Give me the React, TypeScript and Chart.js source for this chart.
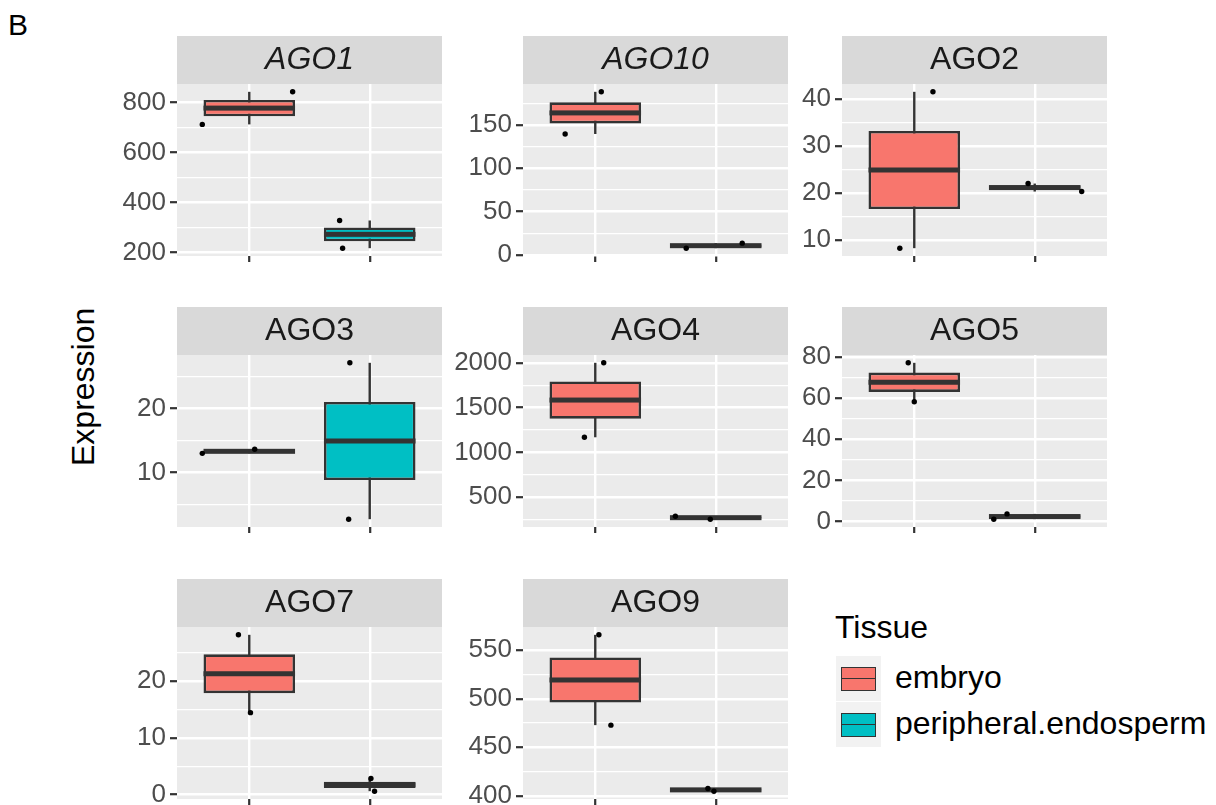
import React, { useEffect, useRef } from 'react';
import { Chart, registerables } from 'chart.js';

Chart.register(...registerables);

const FONT = '"Liberation Sans", Arial, Helvetica, sans-serif';
Chart.defaults.font.family = FONT;

// ---------------- data ----------------
const genes = ['AGO1', 'AGO10', 'AGO2', 'AGO3', 'AGO4', 'AGO5', 'AGO7', 'AGO9'];
const italicGenes = ['AGO1', 'AGO10'];
const tissues = ['embryo', 'peripheral.endosperm'];
const tissueColors = ['#F8766D', '#00BFC4'];

const embryoValues = [
  [712, 842],
  [139.6, 188.3],
  [8.3, 41.55],
  [13.0, 13.63],
  [1169, 2000],
  [58.2, 77.07],
  [14.43, 28.16],
  [472.8, 565.8],
];
const endospermValues = [
  [218, 328.5],
  [7.7, 13.5],
  [20.34, 22.04],
  [2.76, 27.08],
  [255.2, 288.6],
  [1.16, 3.73],
  [0.58, 2.82],
  [404.8, 407.5],
];
// horizontal jitter of each point (offset from its category)
const embryoJitter = [
  [-0.39, 0.36],
  [-0.25, 0.05],
  [-0.12, 0.155],
  [-0.39, 0.045],
  [-0.09, 0.07],
  [0.0, -0.05],
  [0.01, -0.09],
  [0.13, 0.03],
];
const endospermJitter = [
  [-0.225, -0.25],
  [-0.245, 0.22],
  [0.39, -0.055],
  [-0.175, -0.165],
  [-0.045, -0.335],
  [-0.34, -0.23],
  [0.04, 0.01],
  [-0.015, -0.065],
];
const yMajorTicks = [
  [200, 400, 600, 800],
  [0, 50, 100, 150],
  [10, 20, 30, 40],
  [10, 20],
  [500, 1000, 1500, 2000],
  [0, 20, 40, 60, 80],
  [0, 10, 20],
  [400, 450, 500, 550],
];

// ---------------- layout ----------------
const COL_LEFT = [177, 523, 842];
const ROW_TOP = [36, 307, 579];
const PANEL_W = 265;
const PLOT_H = 172;
const STRIP_H = 48;
const AXIS_W = 80;
const XAXIS_H = 8;
const RIGHT_PAD = 3;

function quantile(sorted: number[], p: number) {
  const h = (sorted.length - 1) * p;
  const lo = Math.floor(h);
  const hi = Math.min(lo + 1, sorted.length - 1);
  return sorted[lo] + (h - lo) * (sorted[hi] - sorted[lo]);
}

function boxStats(values: number[]) {
  const s = [...values].sort((a, b) => a - b);
  const q1 = quantile(s, 0.25);
  const med = quantile(s, 0.5);
  const q3 = quantile(s, 0.75);
  const iqr = q3 - q1;
  const lo = Math.min(...s.filter((v) => v >= q1 - 1.5 * iqr));
  const hi = Math.max(...s.filter((v) => v <= q3 + 1.5 * iqr));
  return { q1, med, q3, lo, hi };
}

function Panel({ index }: { index: number }) {
  const ref = useRef<HTMLCanvasElement>(null);
  const col = index % 3;
  const row = Math.floor(index / 3);
  const left = COL_LEFT[col] - AXIS_W;
  const top = ROW_TOP[row];
  const width = AXIS_W + PANEL_W + RIGHT_PAD;
  const height = STRIP_H + PLOT_H + XAXIS_H;

  useEffect(() => {
    const gene = genes[index];
    const italic = italicGenes.includes(gene);
    const groups = [embryoValues[index], endospermValues[index]];
    const jitters = [embryoJitter[index], endospermJitter[index]];
    const stats = groups.map(boxStats);
    const all = groups.flat();
    const dmin = Math.min(...all);
    const dmax = Math.max(...all);
    const pad = (dmax - dmin) * 0.05;
    const ymin = dmin - pad;
    const ymax = dmax + pad;
    const majors = yMajorTicks[index];
    const step = majors[1] - majors[0];
    const tickVals: number[] = [];
    for (let k = -1; k <= 2 * (majors.length - 1) + 1; k++) {
      const v = majors[0] + (k * step) / 2;
      if (v >= ymin && v <= ymax) tickVals.push(v);
    }
    const isMajor = (v: number) => majors.some((m) => Math.abs(m - v) < step * 1e-6);

    const points = groups.flatMap((g, t) =>
      g.map((v, j) => ({ x: t + 1 + jitters[t][j], y: v }))
    );
    const boxes = stats.map((s, t) => ({ x: t + 1, y: [s.q1, s.q3] }));
    const whiskers = stats.map((s, t) => ({ x: t + 1, y: [s.lo, s.hi] }));

    const panelPlugin = {
      id: 'panelDeco',
      beforeDraw(chart: any) {
        const { ctx, chartArea: a } = chart;
        ctx.save();
        ctx.fillStyle = '#EBEBEB';
        ctx.fillRect(a.left, a.top, a.right - a.left, a.bottom - a.top);
        ctx.fillStyle = '#D9D9D9';
        ctx.fillRect(a.left, a.top - STRIP_H, a.right - a.left, STRIP_H);
        ctx.fillStyle = '#1A1A1A';
        ctx.font = `${italic ? 'italic ' : ''}32px ${FONT}`;
        ctx.textAlign = 'center';
        ctx.textBaseline = 'alphabetic';
        ctx.fillText(gene, (a.left + a.right) / 2, a.top - STRIP_H + 33);
        ctx.restore();
      },
      afterDatasetDraw(chart: any, args: any) {
        if (args.index !== 1) return;
        const { ctx } = chart;
        const yScale = chart.scales.y;
        ctx.save();
        ctx.fillStyle = '#333333';
        args.meta.data.forEach((bar: any, i: number) => {
          const { x, width: w } = bar.getProps(['x', 'width'], true);
          const y = yScale.getPixelForValue(stats[i].med);
          ctx.fillRect(x - w / 2, y - 2.5, w, 5);
        });
        ctx.restore();
      },
    };

    const chart = new Chart(ref.current as HTMLCanvasElement, {
      type: 'bar',
      data: {
        datasets: [
          {
            type: 'scatter',
            label: 'points',
            data: points,
            pointRadius: 2.7,
            pointHoverRadius: 2.7,
            backgroundColor: '#000000',
            borderWidth: 0,
          } as any,
          {
            type: 'bar',
            label: 'box',
            data: boxes,
            backgroundColor: tissueColors,
            borderColor: '#333333',
            borderWidth: 2.6,
            borderSkipped: false,
            grouped: false,
            categoryPercentage: 1,
            barPercentage: 0.76,
          } as any,
          {
            type: 'bar',
            label: 'whisker',
            data: whiskers,
            backgroundColor: '#333333',
            borderWidth: 0,
            grouped: false,
            maxBarThickness: 2.4,
          } as any,
        ],
      },
      options: {
        animation: false,
        responsive: false,
        maintainAspectRatio: false,
        events: [],
        layout: { padding: { left: 0, top: STRIP_H, right: RIGHT_PAD, bottom: 0 } },
        plugins: { legend: { display: false }, tooltip: { enabled: false }, title: { display: false } },
        scales: {
          x: {
            type: 'linear',
            min: 0.4,
            max: 2.6,
            offset: false,
            afterBuildTicks: (s: any) => {
              s.ticks = [{ value: 1 }, { value: 2 }];
            },
            afterFit: (s: any) => {
              s.height = XAXIS_H;
              s.paddingLeft = 0;
              s.paddingRight = 0;
              s.paddingTop = 0;
              s.paddingBottom = 0;
            },
            ticks: { display: false },
            grid: {
              color: '#FFFFFF',
              lineWidth: 2.4,
              tickColor: '#333333',
              tickWidth: 2.2,
              tickLength: 6,
              offset: false,
              drawTicks: true,
            },
            border: { display: false },
          },
          y: {
            type: 'linear',
            min: ymin,
            max: ymax,
            afterBuildTicks: (s: any) => {
              s.ticks = tickVals.map((v) => ({ value: v }));
            },
            afterFit: (s: any) => {
              s.width = AXIS_W;
              s.paddingTop = 0;
              s.paddingBottom = 0;
              s.paddingLeft = 0;
              s.paddingRight = 0;
            },
            ticks: {
              autoSkip: false,
              padding: 4,
              color: '#4D4D4D',
              font: { family: FONT, size: 26 },
              callback: (v: any) => (isMajor(Number(v)) ? String(v) : ''),
            },
            grid: {
              color: '#FFFFFF',
              lineWidth: (c: any) => (c.tick && !isMajor(c.tick.value) ? 1.2 : 2.4),
              tickColor: (c: any) => (c.tick && isMajor(c.tick.value) ? '#333333' : 'rgba(0,0,0,0)'),
              tickWidth: 2.2,
              tickLength: 7,
              drawTicks: true,
            },
            border: { display: false },
          },
        } as any,
      },
      plugins: [panelPlugin as any],
    });
    return () => chart.destroy();
  }, [index]);

  return (
    <canvas
      ref={ref}
      width={width}
      height={height}
      style={{ position: 'absolute', left, top, width, height }}
    />
  );
}

function LegendKey({ color, top }: { color: string; top: number }) {
  return (
    <div
      style={{
        position: 'absolute',
        left: 836,
        top,
        width: 45,
        height: 45,
        background: '#F2F2F2',
      }}
    >
      <div
        style={{
          position: 'absolute',
          left: 5,
          top: 10.5,
          width: 35,
          height: 24.5,
          boxSizing: 'border-box',
          border: '1.2px solid #333333',
          background: color,
        }}
      />
      <div
        style={{
          position: 'absolute',
          left: 5,
          top: 22.2,
          width: 35,
          height: 1.2,
          background: '#333333',
        }}
      />
    </div>
  );
}

function Legend() {
  const textStyle = {
    position: 'absolute' as const,
    fontSize: 32,
    lineHeight: '32px',
    color: '#000000',
    whiteSpace: 'nowrap' as const,
  };
  return (
    <>
      <div style={{ ...textStyle, left: 835, top: 611 }}>Tissue</div>
      {tissues.map((t, i) => (
        <React.Fragment key={t}>
          <LegendKey color={tissueColors[i]} top={656 + i * 46} />
          <div style={{ ...textStyle, left: 895, top: 661 + i * 46 }}>{t}</div>
        </React.Fragment>
      ))}
    </>
  );
}

export default function App() {
  return (
    <div
      style={{
        position: 'absolute',
        left: 0,
        top: 0,
        width: 1216,
        height: 805,
        overflow: 'hidden',
        background: '#FFFFFF',
        fontFamily: FONT,
      }}
    >
      <div style={{ position: 'absolute', left: 8, top: 10, fontSize: 30, lineHeight: '30px', color: '#000' }}>B</div>
      <div
        style={{
          position: 'absolute',
          left: 67,
          top: 466,
          fontSize: 32,
          lineHeight: '32px',
          color: '#000',
          whiteSpace: 'nowrap',
          transform: 'rotate(-90deg)',
          transformOrigin: '0 0',
        }}
      >
        Expression
      </div>
      {genes.map((g, i) => (
        <Panel key={g} index={i} />
      ))}
      <Legend />
    </div>
  );
}
